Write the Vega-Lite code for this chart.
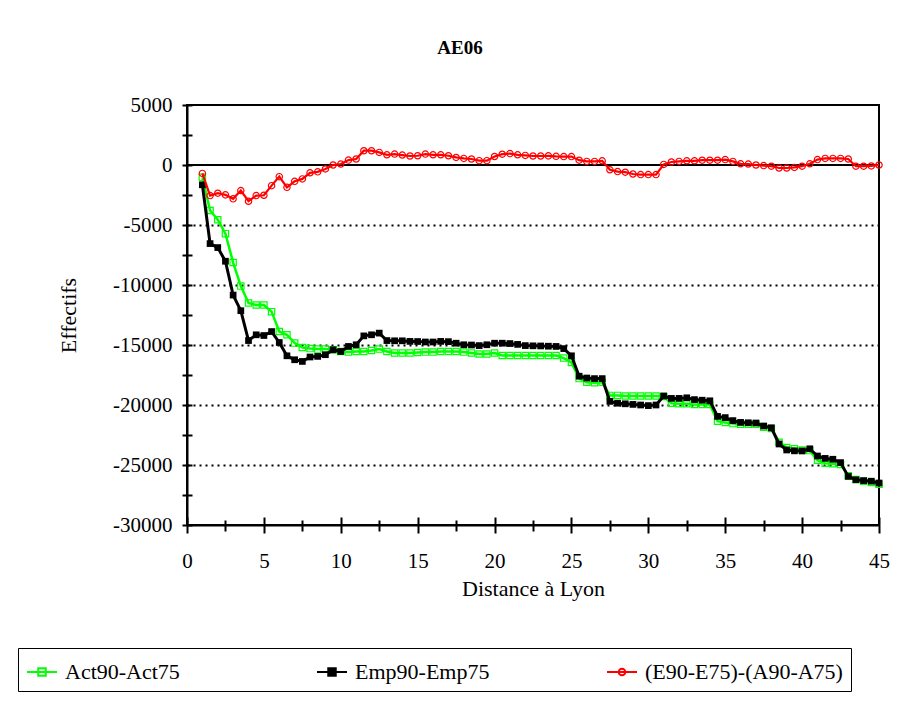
{
  "$schema": "https://vega.github.io/schema/vega-lite/v6.json",
  "width": 692,
  "height": 420,
  "autosize": "none",
  "padding": {"left": 187, "top": 105, "right": 39, "bottom": 193},
  "background": "white",
  "config": {
    "font": "Liberation Serif",
    "view": {"stroke": "black", "strokeWidth": 2},
    "axis": {
      "labelFont": "Liberation Serif",
      "labelFontSize": 21,
      "labelColor": "black",
      "titleFont": "Liberation Serif",
      "titleFontSize": 22,
      "titleFontWeight": "normal",
      "titleColor": "black",
      "domainColor": "black",
      "domainWidth": 2,
      "tickColor": "black",
      "tickWidth": 2,
      "labelFlush": false,
      "labelOverlap": false
    }
  },
  "title": {
    "text": "AE06",
    "font": "Liberation Serif",
    "fontSize": 19,
    "fontWeight": "bold",
    "color": "black",
    "anchor": "middle",
    "frame": "group",
    "baseline": "alphabetic",
    "dx": -73,
    "offset": 21
  },
  "data": {
    "values": [
      {"x": 1.0, "act": -1030, "emp": -1650, "ea": -700},
      {"x": 1.5, "act": -3790, "emp": -6550, "ea": -2550},
      {"x": 2.0, "act": -4560, "emp": -6880, "ea": -2350},
      {"x": 2.5, "act": -5720, "emp": -8020, "ea": -2490},
      {"x": 3.0, "act": -8130, "emp": -10840, "ea": -2820},
      {"x": 3.5, "act": -10090, "emp": -12140, "ea": -2130},
      {"x": 4.0, "act": -11500, "emp": -14630, "ea": -3020},
      {"x": 4.5, "act": -11670, "emp": -14150, "ea": -2550},
      {"x": 5.0, "act": -11670, "emp": -14210, "ea": -2520},
      {"x": 5.5, "act": -12220, "emp": -13880, "ea": -1720},
      {"x": 6.0, "act": -13880, "emp": -14790, "ea": -970},
      {"x": 6.5, "act": -14150, "emp": -15900, "ea": -1860},
      {"x": 7.0, "act": -14840, "emp": -16230, "ea": -1360},
      {"x": 7.5, "act": -15210, "emp": -16370, "ea": -1160},
      {"x": 8.0, "act": -15300, "emp": -16000, "ea": -650},
      {"x": 8.5, "act": -15340, "emp": -15950, "ea": -570},
      {"x": 9.0, "act": -15340, "emp": -15810, "ea": -330},
      {"x": 9.5, "act": -15400, "emp": -15400, "ea": 0},
      {"x": 10.0, "act": -15540, "emp": -15540, "ea": 80},
      {"x": 10.5, "act": -15590, "emp": -15120, "ea": 410},
      {"x": 11.0, "act": -15540, "emp": -14980, "ea": 500},
      {"x": 11.5, "act": -15540, "emp": -14240, "ea": 1190},
      {"x": 12.0, "act": -15460, "emp": -14150, "ea": 1190},
      {"x": 12.5, "act": -15340, "emp": -14010, "ea": 1050},
      {"x": 13.0, "act": -15540, "emp": -14630, "ea": 850},
      {"x": 13.5, "act": -15670, "emp": -14650, "ea": 910},
      {"x": 14.0, "act": -15670, "emp": -14650, "ea": 830},
      {"x": 14.5, "act": -15670, "emp": -14700, "ea": 750},
      {"x": 15.0, "act": -15620, "emp": -14710, "ea": 770},
      {"x": 15.5, "act": -15590, "emp": -14750, "ea": 910},
      {"x": 16.0, "act": -15590, "emp": -14750, "ea": 850},
      {"x": 16.5, "act": -15540, "emp": -14700, "ea": 850},
      {"x": 17.0, "act": -15540, "emp": -14720, "ea": 770},
      {"x": 17.5, "act": -15540, "emp": -14850, "ea": 630},
      {"x": 18.0, "act": -15590, "emp": -14980, "ea": 550},
      {"x": 18.5, "act": -15670, "emp": -15000, "ea": 500},
      {"x": 19.0, "act": -15750, "emp": -15050, "ea": 360},
      {"x": 19.5, "act": -15750, "emp": -14980, "ea": 360},
      {"x": 20.0, "act": -15670, "emp": -14850, "ea": 710},
      {"x": 20.5, "act": -15880, "emp": -14850, "ea": 900},
      {"x": 21.0, "act": -15880, "emp": -14880, "ea": 950},
      {"x": 21.5, "act": -15880, "emp": -14950, "ea": 850},
      {"x": 22.0, "act": -15880, "emp": -15050, "ea": 800},
      {"x": 22.5, "act": -15880, "emp": -15070, "ea": 750},
      {"x": 23.0, "act": -15880, "emp": -15080, "ea": 750},
      {"x": 23.5, "act": -15880, "emp": -15100, "ea": 760},
      {"x": 24.0, "act": -15880, "emp": -15120, "ea": 720},
      {"x": 24.5, "act": -16090, "emp": -15300, "ea": 700},
      {"x": 25.0, "act": -16450, "emp": -15900, "ea": 700},
      {"x": 25.5, "act": -17800, "emp": -17600, "ea": 400},
      {"x": 26.0, "act": -18100, "emp": -17750, "ea": 300},
      {"x": 26.5, "act": -18150, "emp": -17800, "ea": 300},
      {"x": 27.0, "act": -18100, "emp": -17800, "ea": 350},
      {"x": 27.5, "act": -19200, "emp": -19700, "ea": -400},
      {"x": 28.0, "act": -19200, "emp": -19850, "ea": -550},
      {"x": 28.5, "act": -19250, "emp": -19900, "ea": -600},
      {"x": 29.0, "act": -19250, "emp": -19950, "ea": -750},
      {"x": 29.5, "act": -19250, "emp": -20000, "ea": -800},
      {"x": 30.0, "act": -19250, "emp": -20050, "ea": -800},
      {"x": 30.5, "act": -19250, "emp": -20000, "ea": -800},
      {"x": 31.0, "act": -19300, "emp": -19250, "ea": 50},
      {"x": 31.5, "act": -19850, "emp": -19450, "ea": 250},
      {"x": 32.0, "act": -19900, "emp": -19450, "ea": 300},
      {"x": 32.5, "act": -19900, "emp": -19400, "ea": 350},
      {"x": 33.0, "act": -19950, "emp": -19550, "ea": 350},
      {"x": 33.5, "act": -19950, "emp": -19600, "ea": 400},
      {"x": 34.0, "act": -19950, "emp": -19650, "ea": 400},
      {"x": 34.5, "act": -21350, "emp": -20950, "ea": 400},
      {"x": 35.0, "act": -21450, "emp": -21050, "ea": 450},
      {"x": 35.5, "act": -21550, "emp": -21300, "ea": 300},
      {"x": 36.0, "act": -21600, "emp": -21450, "ea": 100},
      {"x": 36.5, "act": -21600, "emp": -21480, "ea": 80},
      {"x": 37.0, "act": -21600, "emp": -21500, "ea": 0},
      {"x": 37.5, "act": -21850, "emp": -21750, "ea": -50},
      {"x": 38.0, "act": -21950, "emp": -21900, "ea": -100},
      {"x": 38.5, "act": -23100, "emp": -23250, "ea": -250},
      {"x": 39.0, "act": -23550, "emp": -23750, "ea": -250},
      {"x": 39.5, "act": -23650, "emp": -23820, "ea": -200},
      {"x": 40.0, "act": -23750, "emp": -23830, "ea": -100},
      {"x": 40.5, "act": -23800, "emp": -23650, "ea": 100},
      {"x": 41.0, "act": -24600, "emp": -24250, "ea": 450},
      {"x": 41.5, "act": -24850, "emp": -24450, "ea": 550},
      {"x": 42.0, "act": -24900, "emp": -24520, "ea": 550},
      {"x": 42.5, "act": -24950, "emp": -24800, "ea": 550},
      {"x": 43.0, "act": -25900, "emp": -25950, "ea": 500},
      {"x": 43.5, "act": -26200, "emp": -26230, "ea": -100},
      {"x": 44.0, "act": -26350, "emp": -26300, "ea": -100},
      {"x": 44.5, "act": -26450, "emp": -26350, "ea": -80},
      {"x": 45.0, "act": -26600, "emp": -26500, "ea": 0}
    ]
  },
  "resolve": {"axis": {"x": "independent", "y": "independent"}},
  "layer": [
    {
      "data": {"values": [{"z": 0}]},
      "mark": {"type": "rule", "color": "black", "strokeWidth": 2},
      "encoding": {
        "y": {
          "field": "z",
          "type": "quantitative",
          "scale": {"domain": [-30000, 5000], "nice": false, "zero": false},
          "axis": {
            "orient": "left",
            "values": [-30000, -27500, -25000, -22500, -20000, -17500, -15000, -12500, -10000, -7500, -5000, -2500, 0, 2500, 5000],
            "labelExpr": "datum.value % 5000 === 0 ? toString(datum.value) : ''",
            "labelFont": "Liberation Serif",
            "tickSize": 5,
            "labelPadding": 10,
            "title": "Effectifs",
            "titlePadding": 32,
            "grid": true,
            "gridColor": "black",
            "gridWidth": 2,
            "gridDash": [2, 4],
            "gridOpacity": {"condition": {"test": "datum.value % 5000 === 0 && datum.value < 0 && datum.value > -30000", "value": 1}, "value": 0}
          }
        }
      }
    },
    {
      "transform": [{"fold": ["act", "emp", "ea"], "as": ["s", "v"]}, {"filter": "datum.s === 'act'"}],
      "mark": {"type": "line", "strokeWidth": 2.5},
      "encoding": {
        "x": {
          "field": "x",
          "type": "quantitative",
          "scale": {"domain": [0, 45], "nice": false, "zero": false},
          "axis": {
            "orient": "bottom",
            "values": [0, 2.5, 5, 7.5, 10, 12.5, 15, 17.5, 20, 22.5, 25, 27.5, 30, 32.5, 35, 37.5, 40, 42.5, 45],
            "labelExpr": "datum.value % 5 === 0 ? datum.label : ''",
            "labelFont": "Liberation Serif",
            "tickSize": {"condition": {"test": "datum.value % 5 === 0", "value": 8}, "value": 6},
            "labelPadding": 17,
            "title": "Distance à Lyon",
            "titlePadding": 7,
            "grid": false
          }
        },
        "y": {
          "field": "v",
          "type": "quantitative",
          "axis": {
            "orient": "left",
            "values": [-30000, -27500, -25000, -22500, -20000, -17500, -15000, -12500, -10000, -7500, -5000, -2500, 0, 2500, 5000],
            "tickSize": -5,
            "labels": false,
            "domain": false,
            "grid": false,
            "title": null
          }
        },
        "color": {
          "field": "s",
          "type": "nominal",
          "scale": {"domain": ["act", "emp", "ea"], "range": ["#00ff00", "#000000", "#ff0000"]},
          "legend": {
            "orient": "none",
            "legendX": -169,
            "legendY": 543,
            "direction": "horizontal",
            "columns": 3,
            "title": null,
            "strokeColor": "black",
            "fillColor": "white",
            "padding": 8,
            "gridAlign": "all",
            "columnPadding": 50,
            "labelFont": "Liberation Serif",
            "labelFontSize": 22,
            "labelColor": "black",
            "labelOffset": 7,
            "labelLimit": 400,
            "symbolSize": 900,
            "symbolStrokeWidth": 2,
            "symbolType": "M-1,0H1M-0.25,-0.25H0.25V0.25H-0.25Z",
            "labelExpr": "datum.value === 'act' ? 'Act90-Act75' : datum.value === 'emp' ? 'Emp90-Emp75' : '(E90-E75)-(A90-A75)'",
            "encode": {
              "symbols": {
                "update": {
                  "shape": {"signal": "datum.value === 'ea' ? 'M-1,0H1M0.22,0A0.22,0.22 0 1,1 -0.22,0A0.22,0.22 0 1,1 0.22,0Z' : 'M-1,0H1M-0.25,-0.25H0.25V0.25H-0.25Z'"},
                  "stroke": {"signal": "datum.value === 'act' ? '#00ff00' : datum.value === 'emp' ? '#000000' : '#ff0000'"},
                  "fill": {"signal": "datum.value === 'emp' ? '#000000' : '#ffffff'"},
                  "strokeWidth": {"value": 2}
                }
              }
            }
          }
        }
      }
    },
    {
      "transform": [{"fold": ["act", "emp", "ea"], "as": ["s", "v"]}, {"filter": "datum.s === 'act'"}],
      "mark": {"type": "point", "shape": "square", "filled": false, "size": 40, "strokeWidth": 1.2, "color": "#00ff00", "opacity": 1},
      "encoding": {
        "x": {
          "field": "x",
          "type": "quantitative",
          "axis": {
            "orient": "bottom",
            "values": [0, 2.5, 5, 7.5, 10, 12.5, 15, 17.5, 20, 22.5, 25, 27.5, 30, 32.5, 35, 37.5, 40, 42.5, 45],
            "tickSize": {"condition": {"test": "datum.value % 5 === 0", "value": -8}, "value": -5},
            "labels": false,
            "domain": false,
            "grid": false,
            "title": null
          }
        },
        "y": {"field": "v", "type": "quantitative", "axis": null}
      }
    },
    {
      "transform": [{"fold": ["act", "emp", "ea"], "as": ["s", "v"]}, {"filter": "datum.s === 'emp'"}],
      "mark": {"type": "line", "strokeWidth": 3},
      "encoding": {
        "x": {"field": "x", "type": "quantitative", "axis": null},
        "y": {"field": "v", "type": "quantitative", "axis": null},
        "color": {"field": "s", "type": "nominal"}
      }
    },
    {
      "transform": [{"fold": ["act", "emp", "ea"], "as": ["s", "v"]}, {"filter": "datum.s === 'emp'"}],
      "mark": {"type": "point", "shape": "square", "filled": true, "size": 45, "color": "#000000", "opacity": 1},
      "encoding": {
        "x": {"field": "x", "type": "quantitative", "axis": null},
        "y": {"field": "v", "type": "quantitative", "axis": null}
      }
    },
    {
      "transform": [{"fold": ["act", "emp", "ea"], "as": ["s", "v"]}, {"filter": "datum.s === 'ea'"}],
      "mark": {"type": "line", "strokeWidth": 2.2},
      "encoding": {
        "x": {"field": "x", "type": "quantitative", "axis": null},
        "y": {"field": "v", "type": "quantitative", "axis": null},
        "color": {"field": "s", "type": "nominal"}
      }
    },
    {
      "transform": [{"fold": ["act", "emp", "ea"], "as": ["s", "v"]}, {"filter": "datum.s === 'ea'"}],
      "mark": {"type": "point", "shape": "circle", "filled": false, "size": 40, "strokeWidth": 1.2, "color": "#ff0000", "opacity": 1},
      "encoding": {
        "x": {"field": "x", "type": "quantitative", "axis": null},
        "y": {"field": "v", "type": "quantitative", "axis": null}
      }
    }
  ]
}
